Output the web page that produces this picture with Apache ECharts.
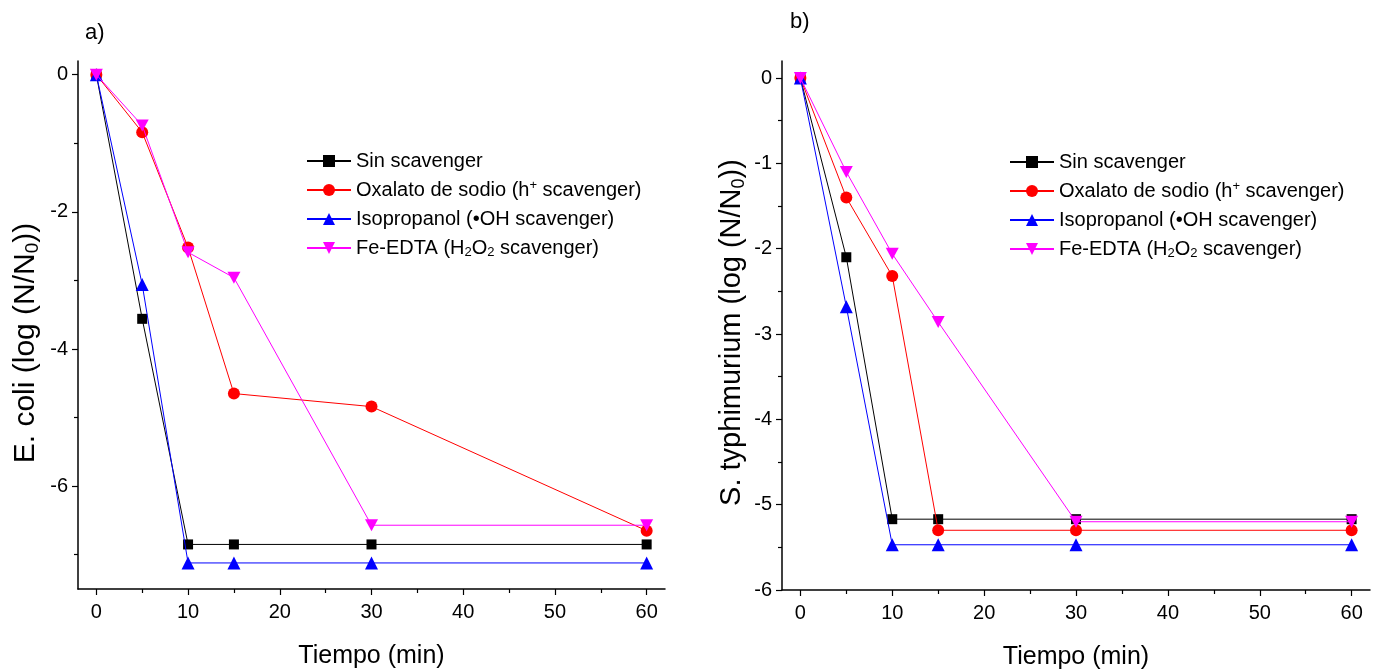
<!DOCTYPE html>
<html>
<head>
<meta charset="utf-8">
<script src="https://cdn.jsdelivr.net/npm/echarts@6/dist/echarts.min.js"></script>
<style>
html,body{margin:0;padding:0;background:#fff;}
#chart{width:1374px;height:672px;}
</style>
</head>
<body>
<div id="chart"></div>
<script>
// ---- data ----
const timeMin = [0, 5, 10, 15, 30, 60];
const seriesNames = ['Sin scavenger', 'Oxalato de sodio (h+ scavenger)', 'Isopropanol (•OH scavenger)', 'Fe-EDTA (H2O2 scavenger)'];
const ecoliSin = [0, -3.56, -6.85, -6.85, -6.85, -6.85];
const ecoliOxalato = [0, -0.84, -2.52, -4.65, -4.84, -6.65];
const ecoliIsopropanol = [0, -3.06, -7.12, -7.12, -7.12, -7.12];
const ecoliFeEDTA = [0, -0.74, -2.59, -2.96, -6.57, -6.57];
const styphSin = [0, -2.10, -5.17, -5.17, -5.17, -5.17];
const styphOxalato = [0, -1.40, -2.32, -5.30, -5.30, -5.30];
const styphIsopropanol = [0, -2.68, -5.47, -5.47, -5.47, -5.47];
const styphFeEDTA = [0, -1.10, -2.06, -2.86, -5.20, -5.20];
const xMajorTicks = [0, 10, 20, 30, 40, 50, 60];
const xMinorTicks = [5, 15, 25, 35, 45, 55];
const ecoliMajorTicks = [0, -2, -4, -6];
const ecoliMinorTicks = [-1, -3, -5, -7];
const styphMajorTicks = [0, -1, -2, -3, -4, -5, -6];
const styphMinorTicks = [-0.5, -1.5, -2.5, -3.5, -4.5, -5.5];

const FONT = "'Liberation Sans', Arial, sans-serif";
const colors = ['#000000', '#ff0000', '#0000ff', '#ff00ff'];
const symbols = ['rect', 'circle', 'triangle', 'path://M0,0 L10,0 L5,9 Z'];
const symbolSizes = [10, 12, 13, [13, 12]];

const gridLeft = {left: 78, top: 61, width: 587, height: 528};
const gridRight = {left: 782, top: 61, width: 588, height: 529};
const X_RANGE = [-2, 62];
const ECOLI_RANGE = [-7.5, 0.2];
const STYPH_RANGE = [-6, 0.2];

function zip(xs, ys) { return xs.map((x, i) => [x, ys[i]]); }

function mainX(gi) {
  return {
    type: 'value', gridIndex: gi, min: X_RANGE[0], max: X_RANGE[1], position: 'bottom',
    name: 'Tiempo (min)', nameLocation: 'middle', nameGap: 55,
    nameTextStyle: {fontFamily: FONT, fontSize: 25, color: '#000'},
    axisLine: {show: true, onZero: false, lineStyle: {color: '#000', width: 1.5}},
    axisTick: {show: true, inside: false, length: 6, customValues: xMajorTicks, lineStyle: {color: '#000', width: 1.2}},
    axisLabel: {show: true, margin: 13, customValues: xMajorTicks, fontFamily: FONT, fontSize: 20, color: '#000'},
    splitLine: {show: false}
  };
}
function minorX(gi) {
  return {
    type: 'value', gridIndex: gi, min: X_RANGE[0], max: X_RANGE[1], position: 'bottom',
    axisLine: {show: false, onZero: false},
    axisTick: {show: true, inside: false, length: 4, customValues: xMinorTicks, lineStyle: {color: '#000', width: 1.2}},
    axisLabel: {show: false},
    splitLine: {show: false}
  };
}
function mainY(gi, range, ticks, name, gap, fs, shift) {
  return {
    type: 'value', gridIndex: gi, min: range[0], max: range[1], position: 'left',
    name: name, nameLocation: 'middle', nameGap: gap, nameRotate: 90,
    nameTextStyle: {fontFamily: FONT, fontSize: fs, color: '#000', padding: [0, shift, 0, 0],
      rich: {n: {fontFamily: FONT, fontSize: fs, lineHeight: fs + 3, color: '#000'},
             sub: {fontFamily: FONT, fontSize: Math.round(fs * 0.62), lineHeight: Math.round(fs * 0.62), verticalAlign: 'bottom', color: '#000'}}},
    axisLine: {show: true, onZero: false, lineStyle: {color: '#000', width: 1.5}},
    axisTick: {show: true, inside: false, length: 6, customValues: ticks, lineStyle: {color: '#000', width: 1.2}},
    axisLabel: {show: true, margin: 10, customValues: ticks, fontFamily: FONT, fontSize: 20, color: '#000'},
    splitLine: {show: false}
  };
}
function minorY(gi, range, ticks) {
  return {
    type: 'value', gridIndex: gi, min: range[0], max: range[1], position: 'left',
    axisLine: {show: false, onZero: false},
    axisTick: {show: true, inside: false, length: 4, customValues: ticks, lineStyle: {color: '#000', width: 1.2}},
    axisLabel: {show: false},
    splitLine: {show: false}
  };
}

const panelData = [
  [ecoliSin, ecoliOxalato, ecoliIsopropanol, ecoliFeEDTA],
  [styphSin, styphOxalato, styphIsopropanol, styphFeEDTA]
];
const series = [];
panelData.forEach((arrs, pi) => {
  arrs.forEach((ys, si) => {
    series.push({
      type: 'line', name: seriesNames[si], xAxisIndex: pi * 2, yAxisIndex: pi * 2,
      data: zip(timeMin, ys), symbol: symbols[si], symbolSize: symbolSizes[si],
      showAllSymbol: true, animation: false, z: 2 + si,
      lineStyle: {color: colors[si], width: 1},
      itemStyle: {color: colors[si]},
      emphasis: {disabled: true}
    });
  });
});

const legendRich = {
  n: {fontFamily: FONT, fontSize: 20, lineHeight: 22, color: '#000'},
  sup: {fontFamily: FONT, fontSize: 13, lineHeight: 11, verticalAlign: 'top', color: '#000'},
  sub: {fontFamily: FONT, fontSize: 13, lineHeight: 11, verticalAlign: 'bottom', color: '#000'}
};
function legendFmt(name) {
  if (name.indexOf('h+') >= 0) return '{n|Oxalato de sodio (h}{sup|+}{n| scavenger)}';
  if (name.indexOf('H2O2') >= 0) return '{n|Fe-EDTA (H}{sub|2}{n|O}{sub|2}{n| scavenger)}';
  return '{n|' + name + '}';
}
function legend(left, top) {
  return {
    left: left, top: top, padding: 0, orient: 'vertical', itemWidth: 44, itemHeight: 15, itemGap: 7,
    data: seriesNames, selectedMode: false, formatter: legendFmt,
    textStyle: {fontFamily: FONT, fontSize: 20, lineHeight: 22, color: '#000', rich: legendRich}
  };
}

const option = {
  animation: false,
  backgroundColor: '#fff',
  title: [
    {text: 'a)', left: 85, top: 22, padding: 0, textStyle: {fontFamily: FONT, fontSize: 22, fontWeight: 'normal', color: '#000'}},
    {text: 'b)', left: 790, top: 11, padding: 0, textStyle: {fontFamily: FONT, fontSize: 22, fontWeight: 'normal', color: '#000'}}
  ],
  legend: [legend(306, 150), legend(1009, 151)],
  grid: [gridLeft, gridLeft, gridRight, gridRight].map(g => Object.assign({outerBoundsMode: 'none', containLabel: false}, g)),
  xAxis: [mainX(0), minorX(1), mainX(2), minorX(3)],
  yAxis: [
    mainY(0, ECOLI_RANGE, ecoliMajorTicks, '{n|E. coli (log (N/N}{sub|0}{n|))}', 36, 30, 36),
    minorY(1, ECOLI_RANGE, ecoliMinorTicks),
    mainY(2, STYPH_RANGE, styphMajorTicks, '{n|S. typhimurium (log (N/N}{sub|0}{n|))}', 34, 29, 14),
    minorY(3, STYPH_RANGE, styphMinorTicks)
  ],
  series: series
};

const chart = echarts.init(document.getElementById('chart'), null, {renderer: 'canvas'});
chart.setOption(option);
</script>
</body>
</html>
